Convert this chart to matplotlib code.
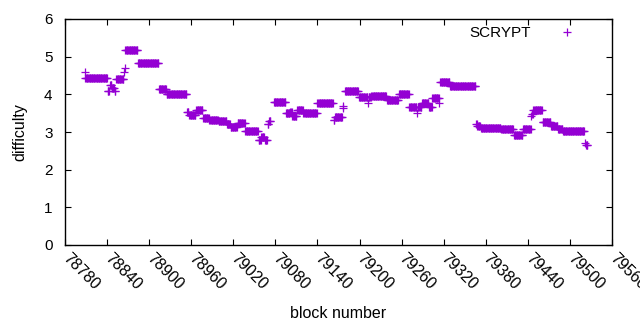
import matplotlib
matplotlib.use("Agg")
import matplotlib.pyplot as plt
import numpy as np

# Piecewise-constant difficulty runs: (first block, last block, difficulty)
run_start = [78808, 78809, 78841, 78844, 78847, 78851, 78853, 78864, 78865, 78866,
             78884, 78914, 78925, 78954, 78957, 78967, 78977, 78986, 78999, 79011,
             79016, 79026, 79037, 79056, 79060, 79065, 79069, 79071, 79078, 79095,
             79101, 79104, 79111, 79120, 79140, 79163, 79165, 79176, 79177, 79179,
             79199, 79212, 79213, 79217, 79239, 79256, 79271, 79282, 79283, 79289,
             79299, 79304, 79314, 79315, 79329, 79366, 79368, 79373, 79402, 79420,
             79433, 79445, 79446, 79448, 79461, 79473, 79483, 79490, 79522, 79523]
run_end = [78808, 78840, 78843, 78846, 78850, 78852, 78863, 78864, 78865, 78883,
           78913, 78924, 78953, 78956, 78966, 78976, 78985, 78998, 79010, 79015,
           79025, 79036, 79055, 79059, 79064, 79068, 79070, 79073, 79094, 79100,
           79103, 79110, 79119, 79139, 79162, 79164, 79175, 79176, 79177, 79198,
           79211, 79212, 79216, 79238, 79255, 79270, 79281, 79282, 79288, 79298,
           79303, 79313, 79314, 79328, 79365, 79367, 79372, 79401, 79419, 79432,
           79444, 79445, 79447, 79460, 79472, 79482, 79489, 79520, 79522, 79525]
run_value = [4.60, 4.44, 4.10, 4.24, 4.18, 4.10, 4.41, 4.59, 4.70, 5.17,
             4.82, 4.13, 4.00, 3.52, 3.44, 3.58, 3.38, 3.33, 3.30, 3.22,
             3.12, 3.23, 3.02, 2.80, 2.86, 2.78, 3.20, 3.30, 3.79, 3.50,
             3.53, 3.42, 3.58, 3.50, 3.77, 3.33, 3.40, 3.63, 3.68, 4.10,
             3.92, 3.76, 3.92, 3.95, 3.84, 4.00, 3.66, 3.50, 3.66, 3.76,
             3.66, 3.89, 3.76, 4.34, 4.22, 3.22, 3.15, 3.10, 3.07, 2.91,
             3.07, 3.42, 3.48, 3.58, 3.26, 3.17, 3.07, 3.02, 2.70, 2.65]

x_ticks = list(range(78780, 79561, 60))
y_ticks = [0, 1, 2, 3, 4, 5, 6]
series_name = "SCRYPT"

blocks, diffs = [], []
for s, e, v in zip(run_start, run_end, run_value):
    for b in range(s, e + 1):
        blocks.append(b)
        diffs.append(v)

plt.rcParams['font.family'] = ['Liberation Sans', 'DejaVu Sans']
fig = plt.figure(figsize=(6.4, 3.3), dpi=100)
ax = fig.add_axes([65/640, 1-245/330, (612-65)/640, (245-19)/330])

ax.plot(blocks, diffs, linestyle='none', marker='+', markersize=5.5,
        markeredgewidth=0.9, color='#9400D3', label=series_name)

ax.set_xlim(78780, 79560)
ax.set_ylim(0, 6)
ax.set_xticks(x_ticks)
ax.set_yticks(y_ticks)
ax.set_xticklabels([str(t) for t in x_ticks], rotation=-45, ha='left', va='center',
                   rotation_mode='anchor', fontsize=11.5)
ax.set_yticklabels([str(t) for t in y_ticks], fontsize=11)
ax.tick_params(axis='x', direction='in', length=4, width=0.8, top=True, pad=8)
ax.tick_params(axis='y', direction='in', length=4, width=0.8, right=True, pad=9)
for sp in ax.spines.values():
    sp.set_linewidth(1.0)
ax.set_xlabel("block number", fontsize=11.5, labelpad=9)
ax.set_ylabel("difficulty", fontsize=11.5, labelpad=12)

leg = ax.legend(loc='upper right', frameon=False, markerfirst=False,
                fontsize=11, handlelength=2.0, handletextpad=1.37,
                borderpad=0, borderaxespad=0,
                bbox_to_anchor=((582-65)/547, (245-26)/226))

fig.savefig("out.png", dpi=100)
